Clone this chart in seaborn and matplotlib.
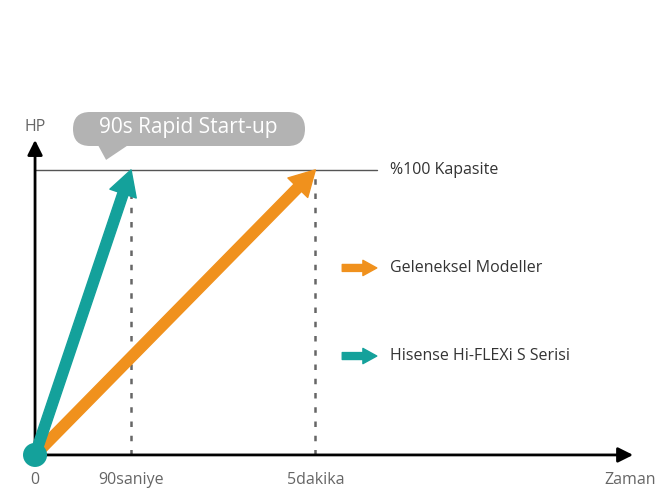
import matplotlib
matplotlib.use("Agg")
import matplotlib.pyplot as plt
from matplotlib.patches import Polygon, FancyBboxPatch
import numpy as np
import pandas as pd
import seaborn as sns

# time axis: positions of the labelled instants (chart units, 90 s = 1)
time_labels = ["0", "90saniye", "5dakika"]
time_pos = [0.0, 1.0, 2.92]
axis_label_x = "Zaman"
axis_label_y = "HP"

# series: time (position) at which each reaches full capacity
series_names = ["Hisense Hi-FLEXi S Serisi", "Geleneksel Modeller"]
series_reach = [1.0, 2.92]
series_colors = ["#14a19b", "#f0911d"]
capacity = 100
capacity_label = "%100 Kapasite"
callout_text = "90s Rapid Start-up"

sns.set_style("white")
plt.rcParams["font.family"] = ["Liberation Sans Narrow", "Open Sans", "DejaVu Sans"]
label_font = dict(fontsize=11.5)

fig = plt.figure(figsize=(6.55, 4.92), dpi=100)
ax = fig.add_axes([0, 0, 1, 1])
ax.set_xlim(-0.365, 6.458)
ax.set_ylim(-13.0, 159.6)
ax.axis("off")

# capacity line
cap_df = pd.DataFrame({"x": [0, 3.56], "y": [capacity, capacity]})
sns.lineplot(data=cap_df, x="x", y="y", color="#555555", lw=1.0, ax=ax)

# dotted guides at the reach times
ax.vlines(series_reach, 0, capacity, colors="#666666", lw=1.8,
          linestyles=[(0, (2.2, 3.5))])

# axes with arrow heads
ax.annotate("", xy=(6.23, 0), xytext=(0, 0),
            arrowprops=dict(arrowstyle="-|>,head_width=0.45,head_length=0.9",
                            color="black", lw=2.0, shrinkA=0, shrinkB=0))
ax.annotate("", xy=(0, 110.5), xytext=(0, 0),
            arrowprops=dict(arrowstyle="-|>,head_width=0.45,head_length=0.9",
                            color="black", lw=2.0, shrinkA=0, shrinkB=0))

# series arrows
for name, t, c in zip(series_names[::-1], series_reach[::-1], series_colors[::-1]):
    ax.annotate("", xy=(t, capacity), xytext=(0, 0),
                arrowprops=dict(arrowstyle="simple,tail_width=0.75,head_width=2.0,head_length=1.8",
                                color=c, mutation_scale=10, shrinkA=0, shrinkB=0))

# origin dot
sns.scatterplot(x=[0], y=[0], s=300, color=series_colors[0], edgecolor="none",
                ax=ax, zorder=5)

# tick labels
for lab, t in zip(time_labels, time_pos):
    ax.text(t, -8.8, lab, ha="center", va="center", color="#666666", **label_font)
ax.text(6.2, -8.8, axis_label_x, ha="center", va="center", color="#666666", **label_font)
ax.text(0, 115, axis_label_y, ha="center", va="center", color="#666666", **label_font)

# legend-like labels
ax.text(3.70, capacity, capacity_label, ha="left", va="center", color="#333333", **label_font)
legend_y = [34.7, 65.6]
for name, c, y in zip(series_names, series_colors, legend_y):
    ax.annotate("", xy=(3.56, y), xytext=(3.2, y),
                arrowprops=dict(arrowstyle="simple,tail_width=0.5,head_width=1.1,head_length=1.0",
                                color=c, mutation_scale=10, shrinkA=0, shrinkB=0))
    ax.text(3.70, y, name, ha="left", va="center", color="#333333", **label_font)

# callout bubble
bubble = FancyBboxPatch((73 / 655, 1 - 146 / 492), 232 / 655, 34 / 492,
                        boxstyle="round,pad=0,rounding_size=0.026",
                        mutation_aspect=655 / 492, transform=fig.transFigure,
                        fc="#b3b3b3", ec="none")
ax.add_patch(bubble)
ax.add_patch(Polygon([(0.656, 108.7), (0.97, 108.7), (0.74, 103.5)],
                     closed=True, fc="#b3b3b3", ec="none"))
ax.text(1.6, 114.7, callout_text, ha="center", va="center", fontsize=15,
        color="white", family=["Open Sans", "DejaVu Sans"])

fig.savefig("out.png", dpi=100)
plt.close(fig)
